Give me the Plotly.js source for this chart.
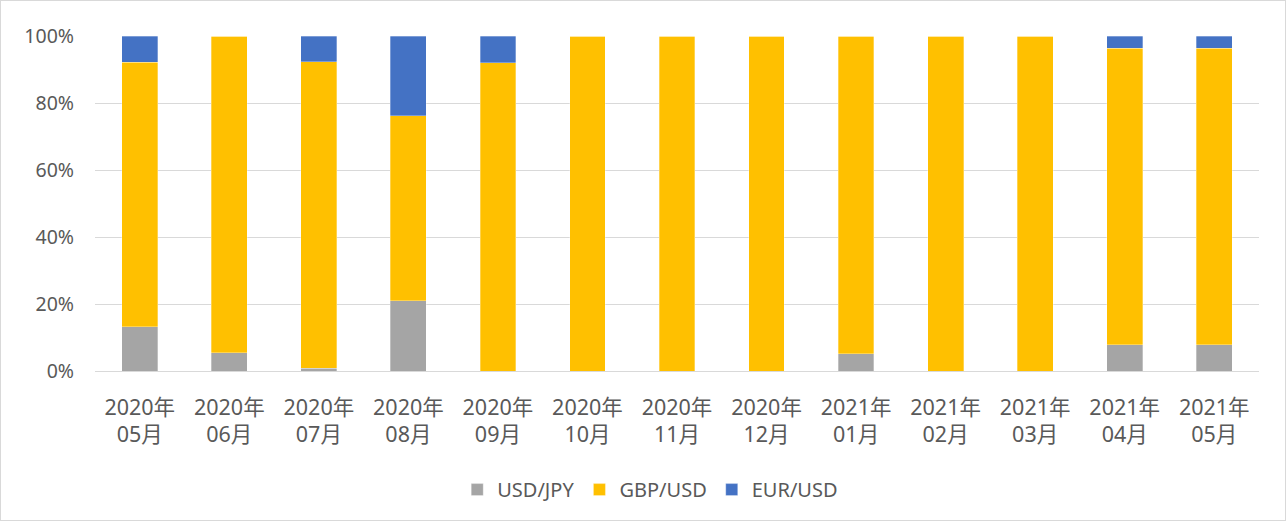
<!DOCTYPE html>
<html>
<head>
<meta charset="utf-8">
<script src="https://cdn.plot.ly/plotly-3.0.1.min.js"></script>
<style>
html,body{margin:0;padding:0;background:#fff;}
#chart{width:1286px;height:521px;box-sizing:border-box;border:1px solid #d9d9d9;}
</style>
</head>
<body>
<div id="chart"></div>
<script>
const categories = ["2020年<br>05月","2020年<br>06月","2020年<br>07月","2020年<br>08月","2020年<br>09月","2020年<br>10月","2020年<br>11月","2020年<br>12月","2021年<br>01月","2021年<br>02月","2021年<br>03月","2021年<br>04月","2021年<br>05月"];
const usdJpy = [13.2, 5.5, 0.8, 21.0, 0, 0, 0, 0, 5.2, 0, 0, 7.9, 7.9];
const gbpUsd = [79.0, 94.5, 91.5, 55.2, 92.0, 100, 100, 100, 94.8, 100, 100, 88.4, 88.4];
const eurUsd = [7.8, 0, 7.7, 23.8, 8.0, 0, 0, 0, 0, 0, 0, 3.7, 3.7];
const tickVals = [0, 20, 40, 60, 80, 100];
const tickText = ["0%", "20%", "40%", "60%", "80%", "100%"];

const font = {family: "Noto Sans, Noto Sans CJK JP, sans-serif", color: "#595959"};
function mk(name, y, color) {
  return {type: "bar", name: name, x: categories, y: y,
    marker: {color: color, line: {color: "rgba(255,255,255,0.6)", width: 0.5}},
    hoverinfo: "skip"};
}
const data = [
  mk("USD/JPY", usdJpy, "#a5a5a5"),
  mk("GBP/USD", gbpUsd, "#ffc000"),
  mk("EUR/USD", eurUsd, "#4472c4")
];
const layout = {
  width: 1284, height: 519,
  margin: {l: 94, r: 26, t: 35, b: 148},
  paper_bgcolor: "#fff", plot_bgcolor: "#fff",
  barmode: "stack", bargap: 0.6,
  font: Object.assign({size: 19}, font),
  xaxis: {type: "category", showgrid: false, showline: false, ticks: "", zeroline: false,
    ticklabelstandoff: 21, tickfont: Object.assign({size: 21.5}, font)},
  yaxis: {range: [0, 100], tickvals: tickVals, ticktext: tickText, showgrid: true,
    gridcolor: "#d9d9d9", gridwidth: 1, zeroline: true, zerolinecolor: "#d9d9d9", zerolinewidth: 1,
    showline: false, ticks: "", ticklen: 0, ticklabelstandoff: 20,
    tickfont: Object.assign({size: 19.5}, font)},
  legend: {orientation: "h", x: 0.477, xanchor: "center", y: -0.35, yanchor: "middle",
    font: Object.assign({size: 20}, font), traceorder: "normal", itemwidth: 30},
  showlegend: true
};
Plotly.newPlot("chart", data, layout, {displayModeBar: false, staticPlot: true});
</script>
</body>
</html>
